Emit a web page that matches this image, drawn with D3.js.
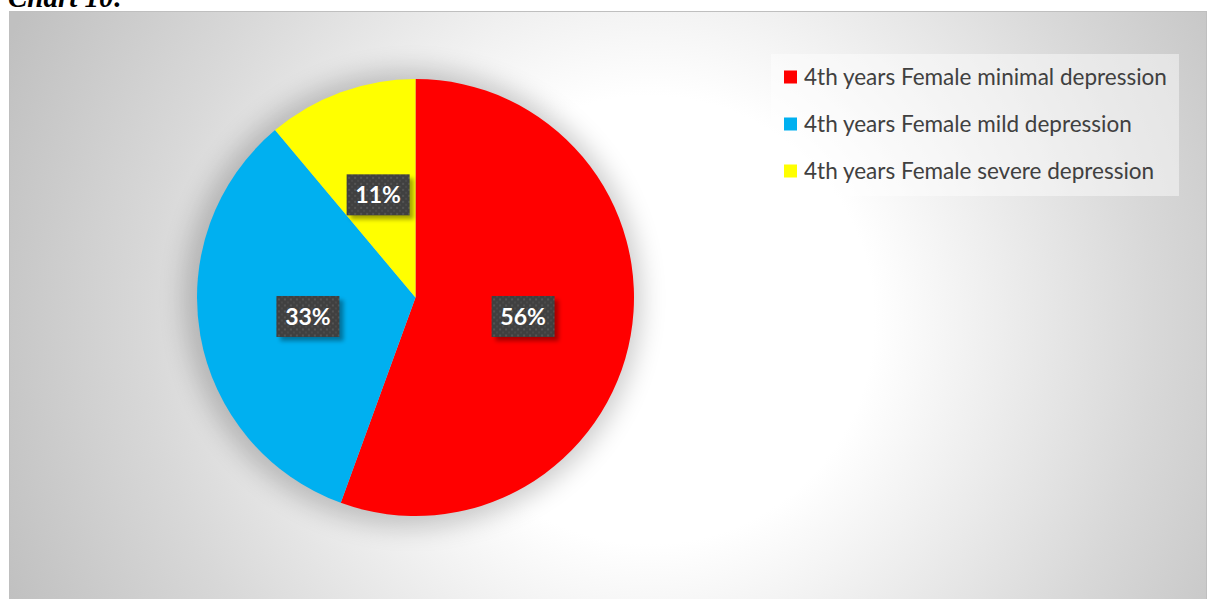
<!DOCTYPE html>
<html>
<head>
<meta charset="utf-8">
<script src="https://cdn.jsdelivr.net/npm/d3@7"></script>
<style>
  html, body { margin: 0; padding: 0; background: #ffffff; }
  svg { display: block; }
</style>
</head>
<body>
<svg id="chart" width="1208" height="599"></svg>
<script>
// Survey counts for 4th-year female students, by depression level
const categories = [
  "4th years Female minimal depression",
  "4th years Female mild depression",
  "4th years Female severe depression"
];
const counts = [5, 3, 1];
const colors = ["#ff0000", "#00b0f0", "#ffff00"];

const svg = d3.select("#chart");

const defs = svg.append("defs");

// Soft grey radial fill of the chart area
const bg = defs.append("radialGradient")
  .attr("id", "areaFill")
  .attr("gradientUnits", "userSpaceOnUse")
  .attr("cx", 650).attr("cy", 320).attr("r", 700)
  .attr("fx", 650).attr("fy", 320);
bg.append("stop").attr("offset", "0").attr("stop-color", "#ffffff");
bg.append("stop").attr("offset", "0.32").attr("stop-color", "#ffffff");
bg.append("stop").attr("offset", "0.72").attr("stop-color", "#d8d8d8");
bg.append("stop").attr("offset", "1").attr("stop-color", "#c0c0c0");

// Blurred shadow behind the pie
const pieShadow = defs.append("filter")
  .attr("id", "pieShadow")
  .attr("x", "-30%").attr("y", "-30%").attr("width", "160%").attr("height", "160%");
pieShadow.append("feGaussianBlur").attr("stdDeviation", 13);

// Dotted texture for data label boxes
const dots = defs.append("pattern")
  .attr("id", "labelDots")
  .attr("patternUnits", "userSpaceOnUse")
  .attr("width", 6).attr("height", 6);
dots.append("rect").attr("width", 6).attr("height", 6).attr("fill", "#404040");
dots.append("rect").attr("x", 0).attr("y", 0).attr("width", 2).attr("height", 2).attr("fill", "#545454");
dots.append("rect").attr("x", 3).attr("y", 3).attr("width", 2).attr("height", 2).attr("fill", "#4b4b4b");

const lblShadow = defs.append("filter")
  .attr("id", "lblShadow")
  .attr("x", "-20%").attr("y", "-20%").attr("width", "150%").attr("height", "150%");
lblShadow.append("feGaussianBlur").attr("stdDeviation", 2);

// Caption above the chart (its top runs past the page edge)
svg.append("text")
  .attr("x", 8).attr("y", 7)
  .attr("font-family", "Liberation Serif, 'Times New Roman', serif")
  .attr("font-weight", "bold")
  .attr("font-style", "italic")
  .attr("font-size", 29)
  .attr("fill", "#000")
  .text("Chart 10:");

// Chart area
svg.append("rect")
  .attr("x", 9.5).attr("y", 11.5)
  .attr("width", 1197).attr("height", 600)
  .attr("fill", "url(#areaFill)")
  .attr("stroke", "#bfbfbf").attr("stroke-width", 1);

// Pie
const cx = 415.5, cy = 297.5, R = 218.5;
const total = d3.sum(counts);
const pie = d3.pie().sort(null).value(d => d)(counts);
const arc = d3.arc().innerRadius(0).outerRadius(R);
const labelArc = d3.arc().innerRadius(R * 0.5).outerRadius(R * 0.5);

const g = svg.append("g").attr("transform", `translate(${cx},${cy})`);

g.append("circle")
  .attr("cx", -3).attr("cy", 1).attr("r", R + 10)
  .attr("fill", "#000").attr("opacity", 0.2)
  .attr("filter", "url(#pieShadow)");

g.selectAll("path.slice")
  .data(pie)
  .join("path")
  .attr("class", "slice")
  .attr("d", arc)
  .attr("fill", (d, i) => colors[i]);

// Data labels
const fmt = v => Math.round(v / total * 100) + "%";
const bw = 63, bh = 41;
const lbl = g.selectAll("g.lbl")
  .data(pie)
  .join("g")
  .attr("class", "lbl")
  .attr("transform", d => {
    const [x, y] = labelArc.centroid(d);
    return `translate(${x},${y})`;
  });

lbl.append("rect")
  .attr("x", -bw / 2 + 4).attr("y", -bh / 2 + 4)
  .attr("width", bw).attr("height", bh)
  .attr("fill", "#000").attr("opacity", 0.35)
  .attr("filter", "url(#lblShadow)");
lbl.append("rect")
  .attr("x", -bw / 2).attr("y", -bh / 2)
  .attr("width", bw).attr("height", bh)
  .attr("fill", "url(#labelDots)");
lbl.append("text")
  .attr("text-anchor", "middle")
  .attr("dy", "0.36em")
  .attr("font-family", "Lato, 'Open Sans', sans-serif")
  .attr("font-weight", "bold")
  .attr("font-size", 23)
  .attr("fill", "#ffffff")
  .text(d => fmt(d.data));

// Legend
const legend = svg.append("g");
legend.append("rect")
  .attr("x", 771).attr("y", 54)
  .attr("width", 408).attr("height", 142)
  .attr("fill", "#ffffff").attr("opacity", 0.45);

const rowY = d3.scalePoint().domain(categories).range([77, 171]);
const rows = legend.selectAll("g.row")
  .data(categories)
  .join("g")
  .attr("class", "row")
  .attr("transform", d => `translate(784,${rowY(d)})`);

rows.append("rect")
  .attr("x", 0).attr("y", -6.5)
  .attr("width", 13).attr("height", 13)
  .attr("fill", (d, i) => colors[i]);

const texts = rows.append("text")
  .attr("x", 20)
  .attr("dy", "0.35em")
  .attr("font-family", "Lato, 'Open Sans', sans-serif")
  .attr("font-size", 20)
  .attr("fill", "#404040")
  .text(d => d);

// Fit the legend text to the legend width
const w0 = texts.nodes()[0].getComputedTextLength();
texts.attr("font-size", 20 * 363 / w0);
</script>
</body>
</html>
